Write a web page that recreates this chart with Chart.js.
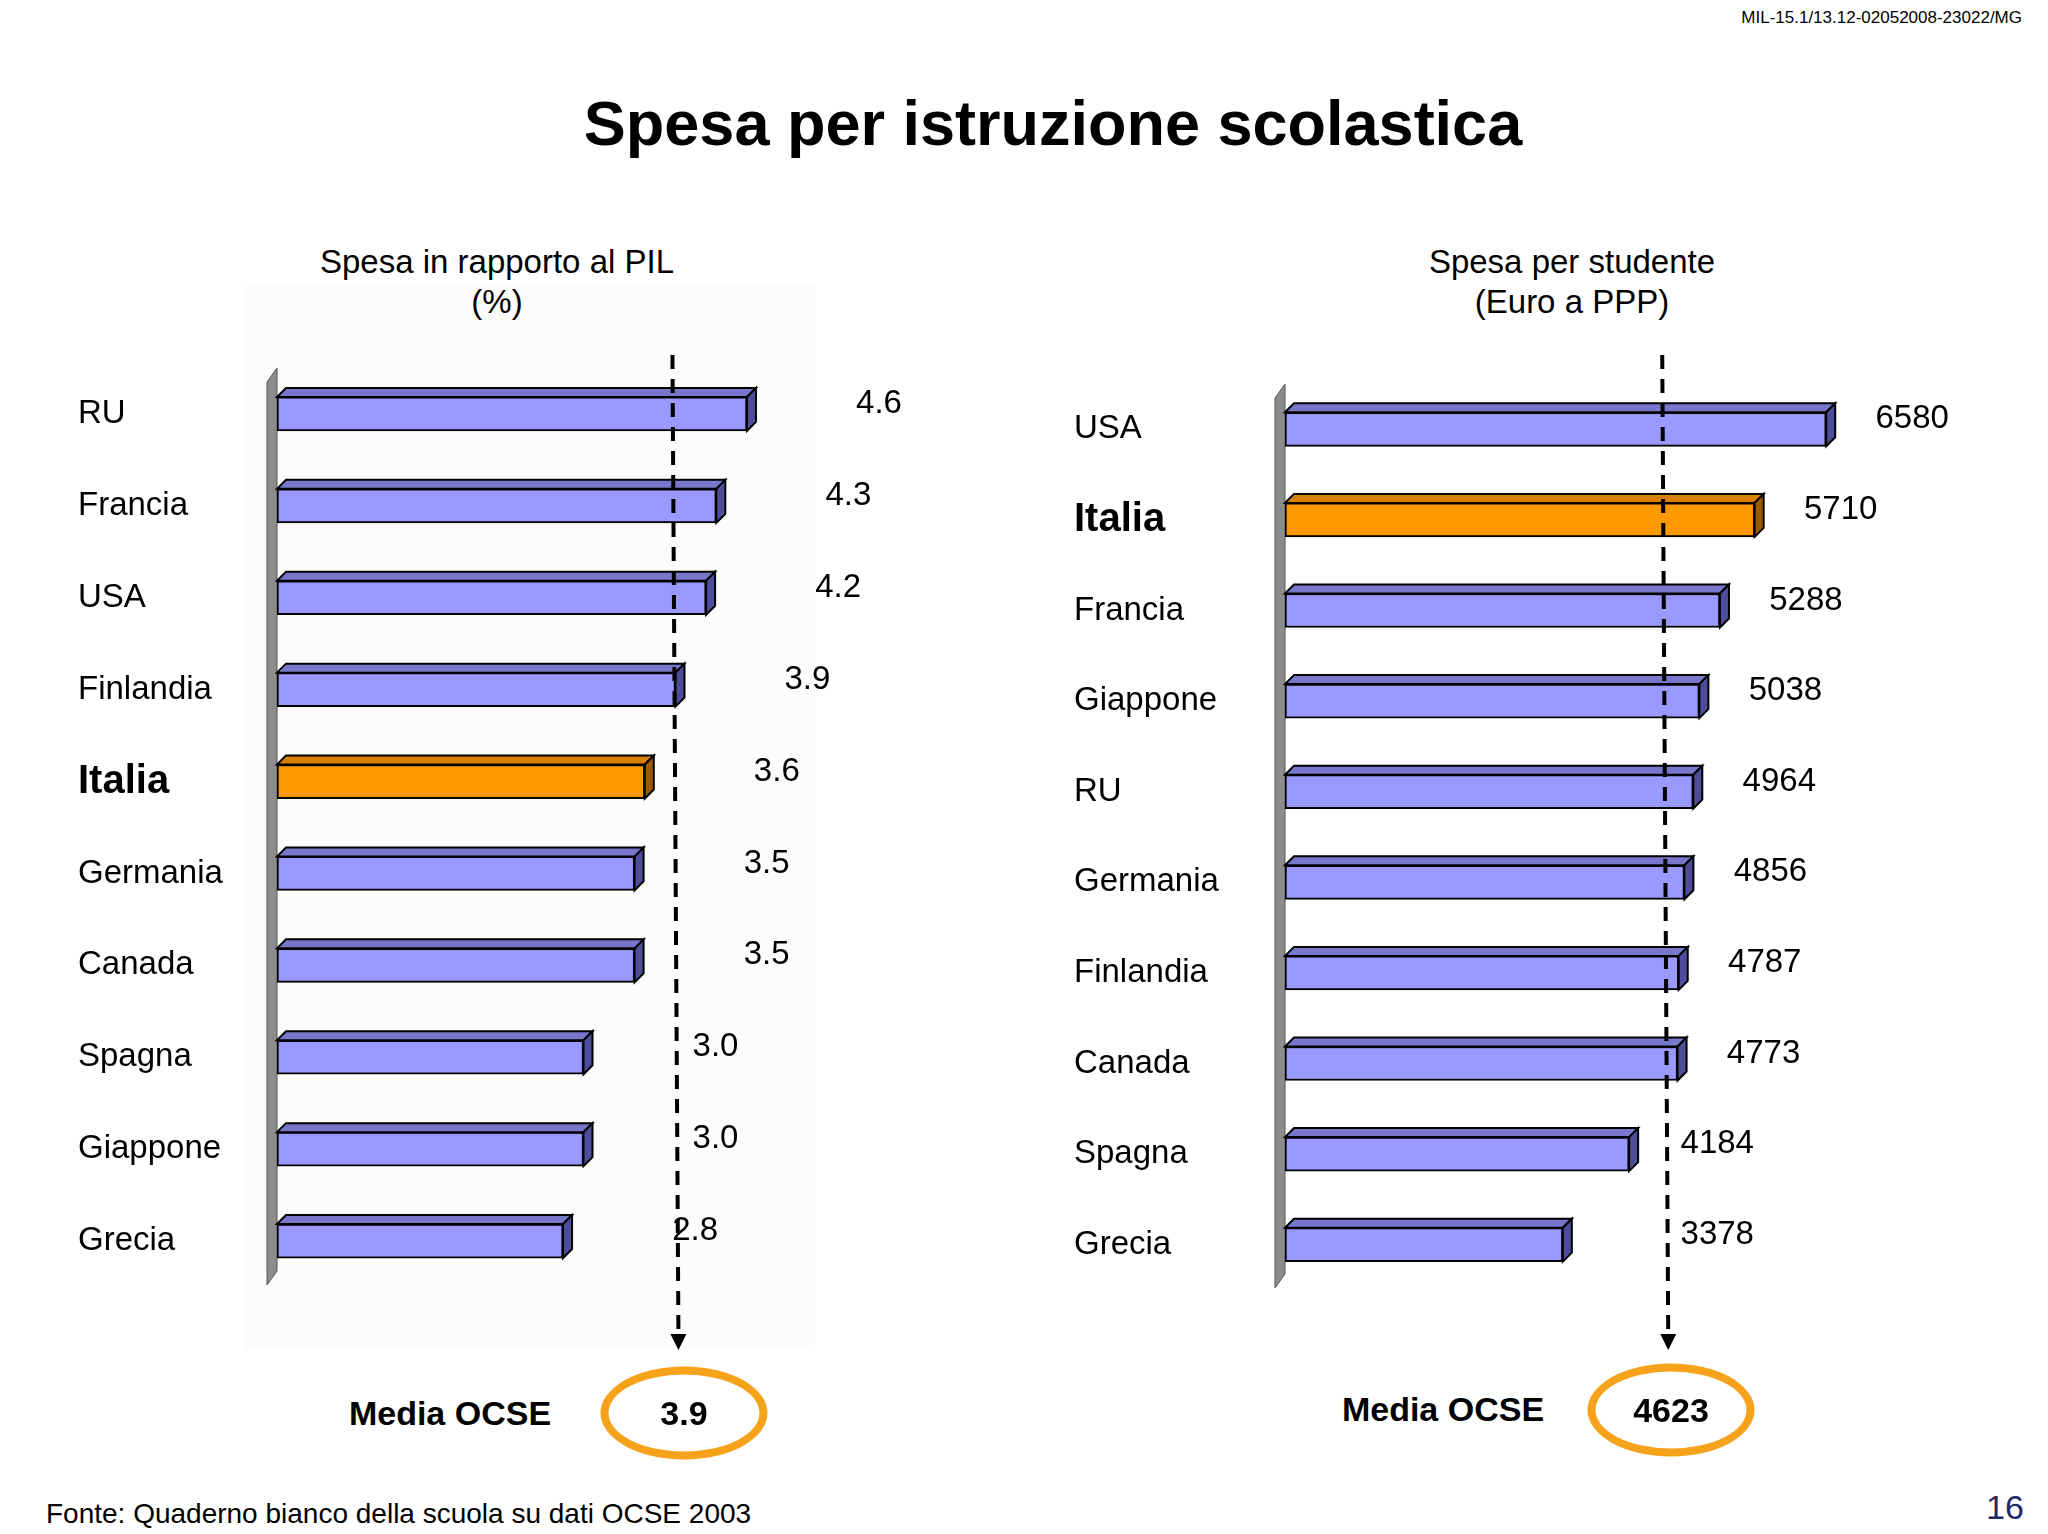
<!DOCTYPE html>
<html>
<head>
<meta charset="utf-8">
<script src="https://cdn.jsdelivr.net/npm/chart.js@4"></script>
<style>
  body { margin: 0; width: 2048px; height: 1534px; background: #fff; font-family: Arial, "Liberation Sans", sans-serif; position: relative; overflow: hidden; }
  .abs { position: absolute; white-space: nowrap; }
  .ctr { transform: translate(-50%, -50%); text-align: center; }
  canvas { position: absolute; }
  .ell { position: absolute; border: 8px solid #f7a21b; border-radius: 50%; box-sizing: border-box; transform: translate(-50%, -50%);
         display: flex; align-items: center; justify-content: center; font-weight: bold; font-size: 34px; }
</style>
</head>
<body>
<div class="abs" style="left:245px;top:285px;width:570px;height:1065px;background:#fcfcfa;"></div>
<div class="abs" style="right:26px;top:8px;font-size:17px;">MIL-15.1/13.12-02052008-23022/MG</div>
<div class="abs ctr" style="left:1053px;top:123px;font-size:63px;font-weight:bold;">Spesa per istruzione scolastica</div>
<div class="abs ctr" style="left:497px;top:282px;font-size:33px;line-height:40px;">Spesa in rapporto al PIL<br>(%)</div>
<div class="abs ctr" style="left:1572px;top:282px;font-size:33px;line-height:40px;">Spesa per studente<br>(Euro a PPP)</div>

<canvas id="left" style="left:50px;top:340px;width:950px;height:1030px;"></canvas>
<canvas id="right" style="left:1000px;top:340px;width:1040px;height:1030px;"></canvas>

<div class="abs ctr" style="left:450px;top:1413px;font-size:34px;font-weight:bold;">Media OCSE</div>
<div class="ell" style="left:684px;top:1413px;width:167px;height:93px;">3.9</div>
<div class="abs ctr" style="left:1443px;top:1409px;font-size:34px;font-weight:bold;">Media OCSE</div>
<div class="ell" style="left:1671px;top:1410px;width:167px;height:93px;">4623</div>

<div class="abs" style="left:46px;top:1498px;font-size:28px;">Fonte: Quaderno bianco della scuola su dati OCSE 2003</div>
<div class="abs" style="left:1986px;top:1488px;font-size:34px;color:#1f2a6b;">16</div>

<script>
const pilCountries = ["RU", "Francia", "USA", "Finlandia", "Italia", "Germania", "Canada", "Spagna", "Giappone", "Grecia"];
const pilValues = [4.6, 4.3, 4.2, 3.9, 3.6, 3.5, 3.5, 3.0, 3.0, 2.8];
const pilAverage = 3.9;

const studCountries = ["USA", "Italia", "Francia", "Giappone", "RU", "Germania", "Finlandia", "Canada", "Spagna", "Grecia"];
const studValues = [6580, 5710, 5288, 5038, 4964, 4856, 4787, 4773, 4184, 3378];
const studAverage = 4623;

const BLUE = "#9999ff", ORANGE = "#ff9900";

// per-chart settings kept outside Chart.js options (functions there get treated as scriptable)
const settings = {
  left: { average: pilAverage, labelX: 28, valOff: 132, avgOff: 0, decimals: 1 },
  right: { average: studAverage, labelX: 74, valOff: 86, avgOff: 52, decimals: 0 }
};

function shade(c) { return c === ORANGE ? ["#d98000", "#995a00"] : ["#7777cc", "#4d4d99"]; }

// 3D faces, wall, category labels, value labels and average line
const deco = {
  id: "deco",
  beforeDatasetsDraw(chart) {
    const ctx = chart.ctx, a = chart.chartArea;
    const x0 = chart.scales.x.getPixelForValue(0);
    ctx.save();
    ctx.fillStyle = "#8c8c8c";
    ctx.strokeStyle = "#555";
    ctx.lineWidth = 1;
    ctx.beginPath();
    ctx.moveTo(x0 - 10, a.top + 14);
    ctx.lineTo(x0, a.top);
    ctx.lineTo(x0, a.bottom - 16);
    ctx.lineTo(x0 - 10, a.bottom - 2);
    ctx.closePath();
    ctx.fill(); ctx.stroke();
    ctx.restore();
  },
  afterDatasetsDraw(chart) {
    const ctx = chart.ctx, o = settings[chart.canvas.id], d = 9;
    const meta = chart.getDatasetMeta(0);
    const avgX = chart.scales.x.getPixelForValue(o.average);
    const labels = chart.data.labels, vals = chart.data.datasets[0].data;
    ctx.save();
    meta.data.forEach((bar, i) => {
      const col = labels[i] === "Italia" ? ORANGE : BLUE;
      const [topC, sideC] = shade(col);
      const t = bar.y - bar.height / 2, b = bar.y + bar.height / 2;
      ctx.lineWidth = 2; ctx.strokeStyle = "#000";
      ctx.fillStyle = topC;
      ctx.beginPath();
      ctx.moveTo(bar.base, t); ctx.lineTo(bar.base + d, t - d);
      ctx.lineTo(bar.x + d, t - d); ctx.lineTo(bar.x, t); ctx.closePath();
      ctx.fill(); ctx.stroke();
      ctx.fillStyle = sideC;
      ctx.beginPath();
      ctx.moveTo(bar.x, t); ctx.lineTo(bar.x + d, t - d);
      ctx.lineTo(bar.x + d, b - d); ctx.lineTo(bar.x, b); ctx.closePath();
      ctx.fill(); ctx.stroke();

      ctx.fillStyle = "#000";
      ctx.textBaseline = "middle";
      ctx.textAlign = "left";
      ctx.font = labels[i] === "Italia" ? "bold 40px Arial, 'Liberation Sans'" : "33px Arial, 'Liberation Sans'";
      ctx.fillText(labels[i], o.labelX, bar.y);
      ctx.font = "33px Arial, 'Liberation Sans'";
      ctx.textAlign = "center";
      const vx = Math.max(bar.x + o.valOff, avgX + o.avgOff);
      ctx.fillText(Number(vals[i]).toFixed(o.decimals), vx, bar.y - 10);
    });
    const top = 15, bot = chart.height - 22;
    ctx.strokeStyle = "#000"; ctx.lineWidth = 4;
    ctx.setLineDash([14, 10]);
    ctx.beginPath(); ctx.moveTo(avgX - 3, top); ctx.lineTo(avgX + 3, bot - 12); ctx.stroke();
    ctx.setLineDash([]);
    ctx.fillStyle = "#000";
    ctx.beginPath();
    ctx.moveTo(avgX + 3 - 8, bot - 14); ctx.lineTo(avgX + 3 + 8, bot - 14); ctx.lineTo(avgX + 3, bot + 2);
    ctx.closePath(); ctx.fill();
    ctx.restore();
  }
};

function makeChart(id, labels, values, max, pad) {
  return new Chart(document.getElementById(id), {
    type: "bar",
    data: {
      labels: labels,
      datasets: [{
        data: values,
        backgroundColor: labels.map(l => l === "Italia" ? ORANGE : BLUE),
        borderColor: "#000",
        borderWidth: 2,
        borderSkipped: false,
        barThickness: 34
      }]
    },
    options: {
      indexAxis: "y",
      responsive: false,
      animation: false,
      layout: { padding: pad },
      scales: {
        x: { min: 0, max: max, display: false },
        y: { display: false }
      },
      plugins: { legend: { display: false }, tooltip: { enabled: false } }
    },
    plugins: [deco]
  });
}

function size(id, w, h) { const c = document.getElementById(id); c.width = w; c.height = h; }
size("left", 950, 1030);
size("right", 1040, 1030);

makeChart("left", pilCountries, pilValues, 6, { left: 227, right: 110, top: 28, bottom: 83 });
makeChart("right", studCountries, studValues, 8000, { left: 285, right: 97, top: 44, bottom: 80 });
</script>
</body>
</html>
